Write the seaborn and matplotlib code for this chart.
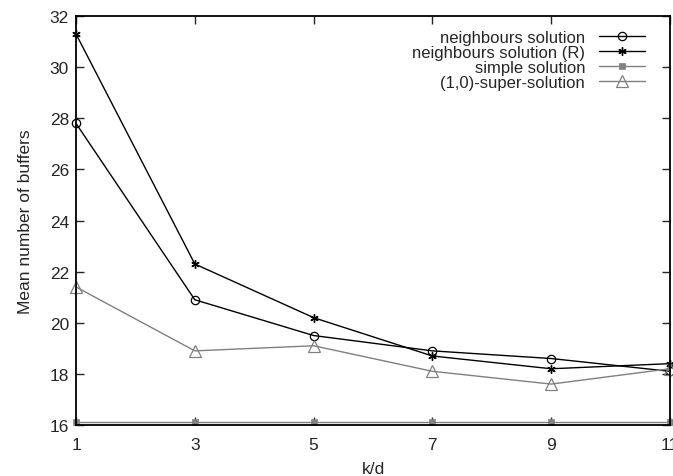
import matplotlib
matplotlib.use("Agg")
import matplotlib.pyplot as plt
import seaborn as sns
import pandas as pd

k_d = [1, 3, 5, 7, 9, 11]
neighbours = [27.8, 20.9, 19.5, 18.9, 18.6, 18.1]
neighbours_r = [31.3, 22.3, 20.2, 18.7, 18.2, 18.4]
simple = [16.1, 16.1, 16.1, 16.1, 16.1, 16.1]
super_sol = [21.4, 18.9, 19.1, 18.1, 17.6, 18.2]
labels = ["neighbours solution", "neighbours solution (R)", "simple solution", "(1,0)-super-solution"]
x_ticks = [1, 3, 5, 7, 9, 11]
y_ticks = [16, 18, 20, 22, 24, 26, 28, 30, 32]

sns.set_style("ticks")
plt.rcParams['font.family'] = ['Liberation Sans', 'DejaVu Sans']

fig = plt.figure(figsize=(6.73, 4.77), dpi=100)
ax = fig.add_axes([0.113, 0.107, 0.8825, 0.857])

series = [neighbours, neighbours_r, simple, super_sol]
styles = [
    dict(color="black", marker="o", mfc="none", mec="black", ms=6, mew=0.9, lw=1.0),
    dict(color="black", marker=(6, 2, 0), mec="black", ms=6, mew=1.0, lw=1.0),
    dict(color="#808080", marker="s", mfc="#808080", mec="#808080", ms=5, mew=0.5, lw=1.0),
    dict(color="#808080", marker="^", mfc="none", mec="#808080", ms=9, mew=0.9, lw=1.0),
]
for vals, lab, st in zip(series, labels, styles):
    df = pd.DataFrame({"k/d": k_d, "val": vals})
    sns.lineplot(data=df, x="k/d", y="val", ax=ax, label=lab, clip_on=False, **st)

ax.set_xlim(1, 11)
ax.set_ylim(16, 32)
ax.set_xticks(x_ticks)
ax.set_yticks(y_ticks)
ax.tick_params(direction="in", length=6, width=1.0, top=True, right=True, labelsize=12.5, pad=5)
ax.tick_params(axis="x", pad=9)
for s in ax.spines.values():
    s.set_linewidth(1.3)
    s.set_color("black")
ax.set_xlabel("k/d", fontsize=12.5, labelpad=6)
ax.set_ylabel("Mean number of buffers", fontsize=12.5, labelpad=12)
leg = ax.legend(loc="upper right", frameon=False, markerfirst=False, fontsize=12,
                handlelength=2.8, labelspacing=0.0, handletextpad=0.8,
                borderaxespad=0.3, bbox_to_anchor=(0.978, 0.995))
fig.savefig("out.png", dpi=100)
